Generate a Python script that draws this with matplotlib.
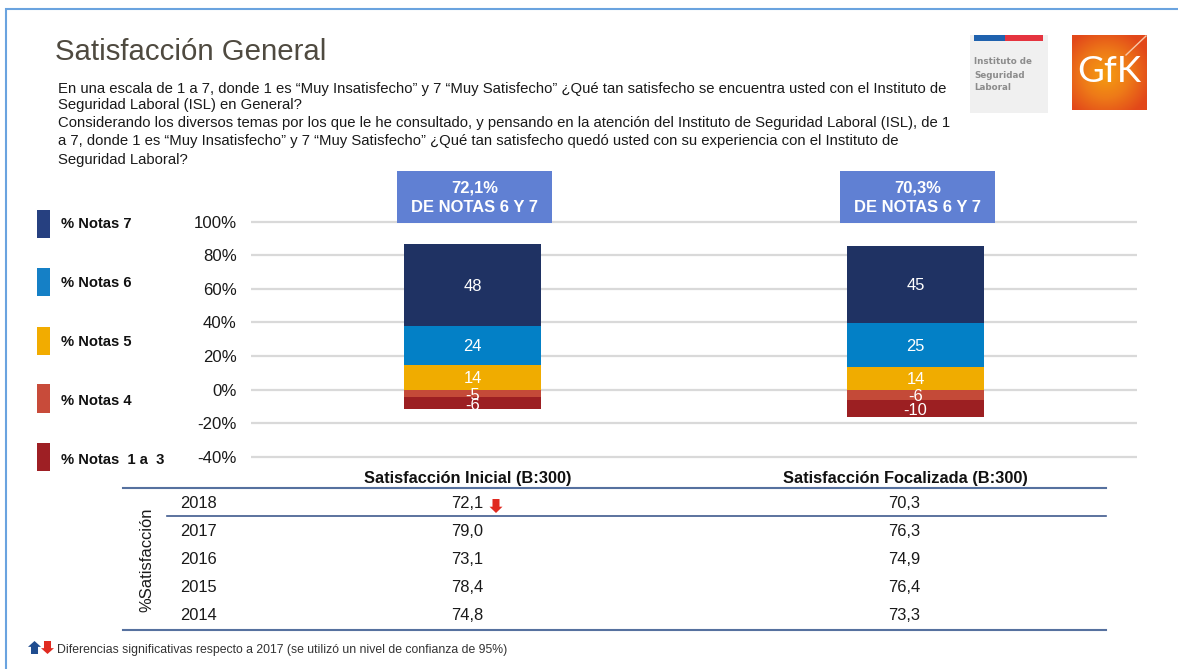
import numpy as np
import matplotlib
matplotlib.use("Agg")
import matplotlib.pyplot as plt
from matplotlib.patches import Rectangle, Polygon
from matplotlib.colors import LinearSegmentedColormap

plt.rcParams['font.family'] = ['Liberation Sans', 'DejaVu Sans']

# ---- data ----
categories = ["Satisfacción Inicial (B:300)", "Satisfacción Focalizada (B:300)"]
series_names = ["% Notas 7", "% Notas 6", "% Notas 5", "% Notas 4", "% Notas  1 a  3"]
notas_7 = [48.6, 45.4]
notas_6 = [23.4, 26.7]
notas_5 = [14.6, 13.2]
notas_4 = [-4.6, -6.0]
notas_1_3 = [-7.2, -10.3]
labels_7 = ["48", "45"]
labels_6 = ["24", "25"]
labels_5 = ["14", "14"]
labels_4 = ["-5", "-6"]
labels_1_3 = ["-6", "-10"]
callouts = ["72,1%\nDE NOTAS 6 Y 7", "70,3%\nDE NOTAS 6 Y 7"]
yticks = [-40, -20, 0, 20, 40, 60, 80, 100]
years = ["2018", "2017", "2016", "2015", "2014"]
col_inicial = ["72,1", "79,0", "73,1", "78,4", "74,8"]
col_focal = ["70,3", "76,3", "74,9", "76,4", "73,3"]

title = "Satisfacción General"
body_lines = [
    "En una escala de 1 a 7, donde 1 es “Muy Insatisfecho” y 7 “Muy Satisfecho” ¿Qué tan satisfecho se encuentra usted con el Instituto de",
    "Seguridad Laboral (ISL) en General?",
    "Considerando los diversos temas por los que le he consultado, y pensando en la atención del Instituto de Seguridad Laboral (ISL), de 1",
    "a 7, donde 1 es “Muy Insatisfecho” y 7 “Muy Satisfecho” ¿Qué tan satisfecho quedó usted con su experiencia con el Instituto de",
    "Seguridad Laboral?",
]
footnote = "Diferencias significativas respecto a 2017 (se utilizó un nivel de confianza de 95%)"

# ---- styles ----
W, H = 1178, 669
bar_cols = ["#1F3263", "#0380C6", "#F0AC00", "#C44A38", "#9C1F22"]
leg_cols = ["#264080", "#1580C6", "#F2AC00", "#C84B3A", "#9E1F24"]

fig = plt.figure(figsize=(W / 100, H / 100), dpi=100, facecolor="white")

# chart axes
ax = fig.add_axes([251 / W, 1 - 456.8 / H, (1137 - 251) / W, (456.8 - 221.7) / H])
ax.set_xlim(-0.5, 1.5)
ax.set_ylim(-40, 100)
ax.patch.set_alpha(0)
for s in ax.spines.values():
    s.set_visible(False)
ax.set_xticks([])
ax.set_yticks(yticks)
ax.set_yticklabels([f"{v}%" for v in yticks], fontsize=12.1, color="#1a1a1a")
ax.tick_params(axis="y", length=0, pad=10.4)
ax.grid(axis="y", color="#D9D9D9", lw=1.6, zorder=0, clip_on=False, solid_capstyle="butt")
ax.set_axisbelow(True)

x = np.arange(len(categories))
bw = 0.31
n7, n6, n5, n4, n13 = map(np.array, (notas_7, notas_6, notas_5, notas_4, notas_1_3))
stacks = [
    (n5, np.zeros(2), labels_5, 2),
    (n6, n5, labels_6, 1),
    (n7, n5 + n6, labels_7, 0),
    (n4, np.zeros(2), labels_4, 3),
    (n13, n4, labels_1_3, 4),
]
for vals, bottom, labs, ci in stacks:
    ax.bar(x, vals, bw, bottom=bottom, color=bar_cols[ci], zorder=2)
    for xi, v, b, lab in zip(x, vals, bottom, labs):
        off = -1.2 if v < 0 else -0.6
        ax.text(xi, b + v / 2 + off, lab, ha="center", va="center",
                color="white", fontsize=11.9, zorder=3)

# pixel overlay
ov = fig.add_axes([0, 0, 1, 1], zorder=5)
ov.set_xlim(0, W)
ov.set_ylim(H, 0)
ov.axis("off")
ov.patch.set_alpha(0)

# frame
ov.plot([5.7, 5.7, W + 5], [H + 5, 9, 9], color="#6AA3DF", lw=1.5, solid_joinstyle="miter")

# heading
ov.text(55, 52, title, fontsize=21.2, color="#4F4A40", va="center", ha="left")
for y, line in zip([93, 109, 127, 145, 164], body_lines):
    ov.text(58, y, line, fontsize=10.7, color="#1a1a1a", va="baseline", ha="left")

# ISL logo
ov.add_patch(Rectangle((970, 35), 78, 78, fc="#F0F0F0", ec="none"))
ov.add_patch(Rectangle((974, 35), 31, 6, fc="#1F62AE", ec="none"))
ov.add_patch(Rectangle((1005, 35), 38, 6, fc="#E5343F", ec="none"))
for y, t in zip([62, 75, 87], ["Instituto de", "Seguridad", "Laboral"]):
    ov.text(974.5, y, t, fontsize=6.3, color="#8C8C8C", va="center", ha="left",
            family="DejaVu Sans", weight="bold")

# GfK logo
gy, gx = np.mgrid[-1:1:120j, -1:1:120j]
r = np.clip(np.sqrt((gx + 0.1) ** 2 + (gy - 0.05) ** 2) / 1.25, 0, 1)
cm = LinearSegmentedColormap.from_list("gfk", ["#F59C10", "#EE7A18", "#E2481A"])
ov.imshow(r, cmap=cm, extent=(1072, 1147, 110, 35), aspect="auto", interpolation="bilinear", zorder=1)
ov.set_xlim(0, W)
ov.set_ylim(H, 0)
ov.plot([1126, 1146], [55, 36], color="#F8C8A8", lw=1, zorder=2)
ov.text(1109.5, 72, "GfK", fontsize=26.5, color="white", ha="center", va="center",
        family="Lato", weight="normal", zorder=3)

# callouts
for cx0, cx1, t in zip([397, 840], [552, 995], callouts):
    ov.add_patch(Rectangle((cx0, 171), cx1 - cx0, 52, fc="#6080D3", ec="none"))
    ov.text((cx0 + cx1) / 2, 188, t.split("\n")[0], color="white", weight="bold",
            fontsize=11.9, ha="center", va="center")
    ov.text((cx0 + cx1) / 2, 207.5, t.split("\n")[1], color="white", weight="bold",
            fontsize=11.9, ha="center", va="center")

# legend
for (y0, y1, yt), c, n in zip([(210, 238, 224), (268, 296, 283), (327, 355, 342),
                               (384, 413, 401), (443, 471, 460)], leg_cols, series_names):
    ov.add_patch(Rectangle((37, y0), 13, y1 - y0, fc=c, ec="none"))
    ov.text(61, yt, n, fontsize=10.6, weight="bold", color="#111111", va="center", ha="left")

# table
ov.text(467.5, 479, categories[0], fontsize=11.8, weight="bold", color="#111111", ha="center", va="center")
ov.text(905, 479, categories[1], fontsize=11.8, weight="bold", color="#111111", ha="center", va="center")
line_c = "#56719F"
ov.plot([123, 1106], [488, 488], color=line_c, lw=1.5)
ov.plot([166.5, 1106], [516, 516], color="#3F5A8E", lw=1.2)
ov.plot([123, 1106], [630, 630], color=line_c, lw=1.5)
row_y = [504, 532, 560, 588, 616]
for y, yr, a, b in zip(row_y, years, col_inicial, col_focal):
    ov.text(180, y, yr, fontsize=11.9, color="#1a1a1a", va="center", ha="left")
    ov.text(467, y, a, fontsize=11.9, color="#1a1a1a", va="center", ha="center")
    ov.text(904, y, b, fontsize=11.9, color="#1a1a1a", va="center", ha="center")
ov.text(147, 560, "%Satisfacción", rotation=90, fontsize=11.9, color="#1a1a1a", va="center", ha="center")


def arrow(cx, top, bottom, color, up=False, w=13):
    hw, sw = w / 2, w * 0.27
    h = (bottom - top) * 0.45
    if up:
        pts = [(cx, top), (cx + hw, top + h), (cx + sw, top + h), (cx + sw, bottom),
               (cx - sw, bottom), (cx - sw, top + h), (cx - hw, top + h)]
    else:
        pts = [(cx, bottom), (cx + hw, bottom - h), (cx + sw, bottom - h), (cx + sw, top),
               (cx - sw, top), (cx - sw, bottom - h), (cx - hw, bottom - h)]
    ov.add_patch(Polygon(pts, closed=True, fc=color, ec="none"))


arrow(496, 499, 513, "#E02A20")
arrow(34.5, 641, 654, "#1F4C8F", up=True)
arrow(47.5, 641, 654, "#E02A20")
ov.text(57, 649.5, footnote, fontsize=8.83, color="#333333", va="center", ha="left")

fig.savefig("out.png", dpi=100)
